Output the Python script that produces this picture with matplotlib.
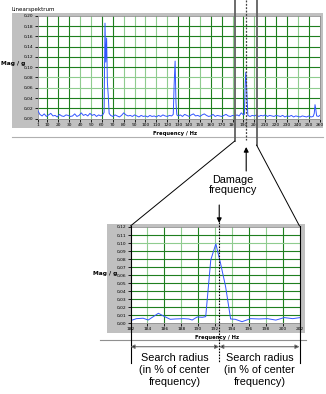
import matplotlib
matplotlib.use("Agg")
import matplotlib.pyplot as plt
from matplotlib.patches import Rectangle, FancyArrowPatch, ConnectionPatch
from matplotlib.lines import Line2D
from matplotlib.transforms import blended_transform_factory

# overview spectrum (frequency in Hz, magnitude in g)
top_freq = [1, 3, 5, 7, 9, 11, 13, 15, 17, 19, 21, 23, 25, 27, 29, 31, 33, 35, 37, 39,
            41, 43, 45, 47, 49, 51, 53, 55, 57, 59, 61, 62.0, 62.8, 63.5, 64.3, 65.0,
            65.8, 66.6, 68, 70, 72, 74, 76, 78, 80, 82, 84, 86, 88, 90, 92, 94, 96, 98,
            100, 102, 104, 106, 108, 110, 112, 114, 116, 118, 120, 122, 124, 125.5,
            126.3, 127.2, 128.0, 128.8, 130, 132, 134, 136, 138, 140, 142, 144, 146,
            148, 150, 152, 154, 156, 158, 160, 162, 164, 166, 168, 170, 172, 174, 176,
            178, 180, 182, 184, 186, 188, 190, 190.8, 191.5, 192.1, 192.7, 193.3,
            194.0, 196, 198, 200, 202, 204, 206, 208, 210, 212, 214, 216, 218, 220,
            222, 224, 226, 228, 230, 232, 234, 236, 238, 240, 242, 244, 246, 248, 250,
            252, 254, 255.0, 255.7, 256.4, 257.2, 259, 260]
top_mag = [0.016, 0.008, 0.005, 0.009, 0.004, 0.007, 0.010, 0.005, 0.006, 0.003, 0.008,
           0.005, 0.004, 0.007, 0.006, 0.004, 0.005, 0.009, 0.004, 0.006, 0.011, 0.006,
           0.008, 0.005, 0.010, 0.006, 0.008, 0.004, 0.007, 0.005, 0.008, 0.012, 0.186,
           0.110, 0.157, 0.070, 0.045, 0.010, 0.006, 0.004, 0.007, 0.005, 0.003, 0.006,
           0.011, 0.007, 0.005, 0.006, 0.004, 0.007, 0.005, 0.003, 0.006, 0.004, 0.005,
           0.003, 0.006, 0.004, 0.005, 0.003, 0.006, 0.004, 0.007, 0.005, 0.004, 0.006,
           0.005, 0.008, 0.065, 0.112, 0.030, 0.007, 0.005, 0.007, 0.004, 0.008, 0.006,
           0.004, 0.007, 0.009, 0.005, 0.006, 0.004, 0.007, 0.009, 0.006, 0.004, 0.005,
           0.008, 0.004, 0.006, 0.005, 0.004, 0.006, 0.008, 0.005, 0.004, 0.006, 0.005,
           0.007, 0.005, 0.011, 0.007, 0.008, 0.060, 0.090, 0.070, 0.040, 0.006, 0.004,
           0.006, 0.005, 0.007, 0.004, 0.006, 0.005, 0.007, 0.004, 0.006, 0.005, 0.004,
           0.006, 0.005, 0.004, 0.006, 0.003, 0.005, 0.004, 0.006, 0.003, 0.005, 0.004,
           0.003, 0.005, 0.004, 0.003, 0.005, 0.003, 0.004, 0.010, 0.027, 0.018, 0.005,
           0.004, 0.006]

# zoomed spectrum around the damage frequency
bot_freq = [182.0, 182.7, 183.5, 184.1, 184.7, 185.3, 185.9, 186.7, 187.3, 188.3, 188.9,
            189.3, 189.9, 190.5, 190.9, 191.5, 192.1, 192.65, 193.25, 193.85, 194.4,
            195.2, 196.2, 197.2, 198.2, 199.2, 200.2, 201.2, 202.0]
bot_mag = [0.0033, 0.0058, 0.0063, 0.0041, 0.0083, 0.0125, 0.0091, 0.0050, 0.0054,
           0.0058, 0.0054, 0.0041, 0.0079, 0.0075, 0.0083, 0.079, 0.099, 0.075, 0.046,
           0.0054, 0.0050, 0.0020, 0.0058, 0.0054, 0.0058, 0.0040, 0.0071, 0.0058, 0.0070]

top_xticks = [1] + list(range(10, 261, 10))
top_xticklabels = [str(t) for t in top_xticks]
top_yticks = [0.00, 0.02, 0.04, 0.06, 0.08, 0.10, 0.12, 0.14, 0.16, 0.18, 0.20]
top_yticklabels = ["0,00", "0,02", "0,04", "0,06", "0,08", "0,10", "0,12", "0,14",
                   "0,16", "0,18", "0,20"]
bot_xticks = [182, 184, 186, 188, 190, 192, 194, 196, 198, 200, 202]
bot_xticklabels = [str(t) for t in bot_xticks]
bot_yticks = [0.00, 0.01, 0.02, 0.03, 0.04, 0.05, 0.06, 0.07, 0.08, 0.09, 0.10, 0.11, 0.12]
bot_yticklabels = ["0,00", "0,01", "0,02", "0,03", "0,04", "0,05", "0,06", "0,07",
                   "0,08", "0,09", "0,10", "0,11", "0,12"]

zoom_lo, zoom_hi = 182, 202
damage_freq = 192.5

W, H = 326, 394
DARK = "#1f7f1f"
LIGHT = "#8fcc8f"
BLUE = "#3355ff"
PANEL = "#c0c0c0"


def box(x0, y0, x1, y1):
    # pixel box (from top-left) -> figure fraction rect
    return [x0 / W, 1 - y1 / H, (x1 - x0) / W, (y1 - y0) / H]


def fy(y):
    return 1 - y / H


def fx(x):
    return x / W


fig = plt.figure(figsize=(W / 100, H / 100), dpi=100)
fig.patch.set_facecolor("white")

# grey panels behind both charts
for rect in (box(12, 13, 323, 128), box(107, 224, 305, 333)):
    fig.add_artist(Rectangle((rect[0], rect[1]), rect[2], rect[3],
                             transform=fig.transFigure, facecolor=PANEL,
                             edgecolor="none", zorder=-1))


def style_axes(ax, xticks, xlabels, yticks, ylabels, light_x, light_y):
    ax.set_facecolor("white")
    lo, hi = ax.get_xlim()
    for t in xticks:
        if lo < t < hi:
            ax.axvline(t, color=LIGHT if t in light_x else DARK, lw=0.8, zorder=1)
    for t in yticks:
        if 0 < t < ax.get_ylim()[1]:
            ax.axhline(t, color=LIGHT if t in light_y else DARK, lw=0.8, zorder=1)
    ax.set_xticks(xticks)
    ax.set_xticklabels(xlabels)
    ax.set_yticks(yticks)
    ax.set_yticklabels(ylabels)
    ax.tick_params(labelsize=3.2, length=2, width=0.6, pad=1, color="black")
    for s in ax.spines.values():
        s.set_color("#909090")
        s.set_linewidth(0.6)


# top: overview spectrum
ax1 = fig.add_axes(box(37.7, 16, 319.7, 118.5))
ax1.set_xlim(1, 260)
ax1.set_ylim(0, 0.20)
ax1.plot(top_freq, top_mag, color=BLUE, lw=0.7, zorder=3)
style_axes(ax1, top_xticks, top_xticklabels, top_yticks, top_yticklabels,
           light_x=[40, 50, 80, 90, 100, 110, 120, 150, 180, 200, 240],
           light_y=[0.06, 0.08, 0.20])
fig.text(fx(12), fy(10), "Linearspektrum", fontsize=4, va="center", ha="left")
fig.text(fx(1), fy(63), "Mag / g", fontsize=4.2, fontweight="bold", va="center")
fig.text(fx(175), fy(133), "Frequency / Hz", fontsize=3.8, fontweight="bold",
         ha="center", va="center")
fig.add_artist(Line2D([fx(12), fx(323)], [fy(137), fy(137)], transform=fig.transFigure,
                      color="#b0b0b0", lw=0.8))

# bottom: zoom on the damage frequency
ax2 = fig.add_axes(box(130.5, 227, 299.5, 323.3))
ax2.set_xlim(zoom_lo, zoom_hi)
ax2.set_ylim(0, 0.12)
ax2.plot(bot_freq, bot_mag, color=BLUE, lw=0.7, zorder=3)
style_axes(ax2, bot_xticks, bot_xticklabels, bot_yticks, bot_yticklabels,
           light_x=[184, 188, 192, 194, 198],
           light_y=[0.10])
fig.text(fx(93), fy(273), "Mag / g", fontsize=4.2, fontweight="bold", va="center")
fig.text(fx(217), fy(337), "Frequency / Hz", fontsize=3.8, fontweight="bold",
         ha="center", va="center")
fig.add_artist(Line2D([fx(100), fx(306)], [fy(340), fy(340)], transform=fig.transFigure,
                      color="#909090", lw=0.8))

t_top = blended_transform_factory(ax1.transData, fig.transFigure)
t_bot = blended_transform_factory(ax2.transData, fig.transFigure)

# search window markers on the overview
for f, y_end in ((zoom_lo, 141), (zoom_hi, 145)):
    fig.add_artist(Line2D([f, f], [fy(0), fy(y_end)], transform=t_top,
                          color="#606060", lw=1.3, zorder=5))
fig.add_artist(Line2D([damage_freq, damage_freq], [fy(0), fy(140)], transform=t_top,
                      color="#404040", lw=0.9, ls=(0, (1.5, 1.2)), zorder=5))

# connectors from the overview window to the zoomed chart
for f, y_start in ((zoom_lo, 141), (zoom_hi, 145)):
    fig.add_artist(ConnectionPatch(xyA=(f, fy(y_start)), coordsA=t_top,
                                   xyB=(f, fy(226)), coordsB=t_bot,
                                   color="black", lw=0.7, zorder=5))

# window edges and damage line on the zoomed chart
for f in (zoom_lo, zoom_hi):
    fig.add_artist(Line2D([f, f], [fy(226), fy(363)], transform=t_bot,
                          color="black", lw=0.8, zorder=5))
fig.add_artist(Line2D([damage_freq, damage_freq], [fy(222), fy(363)], transform=t_bot,
                      color="black", lw=0.8, ls=(0, (1.5, 1.2)), zorder=5))

# "Damage frequency" label with arrows
fig.add_artist(FancyArrowPatch((damage_freq, fy(171)), (damage_freq, fy(147)),
                               transform=t_top, arrowstyle="-|>", mutation_scale=7,
                               color="black", lw=0.8, shrinkA=0, shrinkB=0, zorder=6))
fig.add_artist(FancyArrowPatch((damage_freq, fy(205)), (damage_freq, fy(223)),
                               transform=t_bot, arrowstyle="-|>", mutation_scale=7,
                               color="black", lw=0.8, shrinkA=0, shrinkB=0, zorder=6))
x_left = ax1.transData.transform((damage_freq, 0))[0]
x_right = ax2.transData.transform((damage_freq, 0))[0]
fig.text((x_left + x_right) / 2 / fig.dpi / fig.get_figwidth(), fy(185),
         "Damage\nfrequency", fontsize=7.8, family="Liberation Sans",
         ha="center", va="center", linespacing=1.05)

# search radius dimension arrows
for a, b in ((zoom_lo, damage_freq), (damage_freq, zoom_hi)):
    fig.add_artist(FancyArrowPatch((a, fy(346.7)), (b, fy(346.7)), transform=t_bot,
                                   arrowstyle="<|-|>", mutation_scale=6,
                                   edgecolor="#707070", facecolor="black", lw=0.8,
                                   shrinkA=0, shrinkB=0, zorder=6))
    xm = ax2.transData.transform(((a + b) / 2, 0))[0] / fig.dpi / fig.get_figwidth()
    fig.text(xm, fy(370), "Search radius\n(in % of center\nfrequency)", fontsize=7.8,
             family="Liberation Sans", ha="center", va="center", linespacing=1.2)

fig.savefig("out.png", dpi=100)
